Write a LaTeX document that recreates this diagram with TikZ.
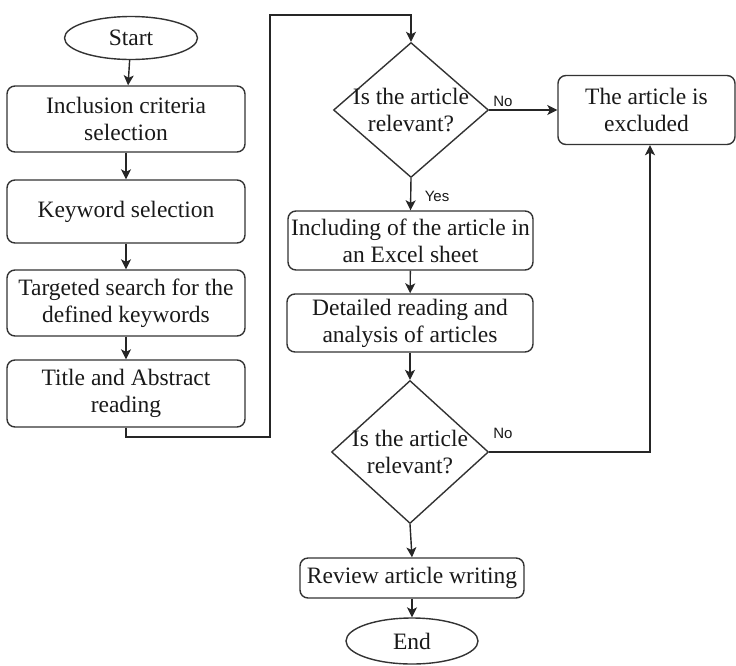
\documentclass[tikz,border=0pt]{standalone}
\usepackage{fontspec}
\setmainfont{Liberation Serif}
\newfontfamily\lblfont{Liberation Sans}
\usetikzlibrary{shapes.geometric,arrows.meta}
\begin{document}
\begin{tikzpicture}[x=1pt,y=-1pt,
  line width=1.4pt,
  box/.style={draw=black!80, rounded corners=8pt, align=center, inner sep=0pt, font=\fontsize{23.5}{27}\selectfont, text=black!90},
  term/.style={draw=black!80, ellipse, inner sep=0pt, font=\fontsize{23.5}{27}\selectfont, text=black!90},
  dec/.style={draw=black!80, diamond, inner sep=0pt},
  txt/.style={align=center, inner sep=0pt, font=\fontsize{23.5}{27}\selectfont, text=black!90},
  lbl/.style={font=\lblfont\fontsize{15}{16}\selectfont, text=black!90, inner sep=0pt},
  arr/.style={draw=black!85, -{Stealth[length=10pt,width=10pt,inset=2.5pt]}},
]
\useasboundingbox (0,0) rectangle (736,665);
% left column
\node[term, minimum width=133pt, minimum height=43pt] (start) at (131,38) {Start};
\node[box, minimum width=238pt, minimum height=66pt] (inc) at (126,119) {Inclusion criteria\\selection};
\node[box, minimum width=238pt, minimum height=63pt] (kw) at (126,211.5) {Keyword selection};
\node[box, minimum width=238pt, minimum height=66pt] (tgt) at (126,303) {Targeted search for the\\defined keywords};
\node[box, minimum width=238pt, minimum height=67pt] (title) at (126,393.5) {Title and Abstract\\reading};
% right column
\node[dec, minimum width=155pt, minimum height=135pt] (d1) at (411,110) {};
\node[txt] (d1t) at (411,110) {Is the article\\relevant?};
\node[box, minimum width=177pt, minimum height=69pt] (ex) at (646.5,110) {The article is\\excluded};
\node[box, minimum width=245pt, minimum height=59pt] (incl) at (410.5,240.5) {Including of the article in\\an Excel sheet};
\node[box, minimum width=246pt, minimum height=58pt] (det) at (410,323) {Detailed reading and\\analysis of articles};
\node[dec, minimum width=157pt, minimum height=143pt] (d2) at (410,452) {};
\node[txt] (d2t) at (410,452) {Is the article\\relevant?};
\node[box, minimum width=224pt, minimum height=40pt] (rev) at (412,578) {Review article writing};
\node[term, minimum width=132pt, minimum height=46pt] (end) at (412,641) {End};
% labels
\node[lbl] (no1) at (503,101) {No};
\node[lbl] (yes1) at (437,196) {Yes};
\node[lbl] (no2) at (503,433) {No};
% routing coordinates
\coordinate (c1) at (126,437);
\coordinate (c2) at (270,437);
\coordinate (c3) at (270,15);
\coordinate (c4) at (411,15);
% connectors
\draw[arr] (start) -- (inc);
\draw[arr] (inc) -- (kw);
\draw[arr] (kw) -- (tgt);
\draw[arr] (tgt) -- (title);
\draw[arr] (title.south) -- (c1) -- (c2) -- (c3) -- (c4) -- (d1.north);
\draw[arr] (d1.east) -- (ex.west);
\draw[arr] (d1.south) -- (incl.north);
\draw[arr] (incl) -- (det);
\draw[arr] (det.south) -- (d2.north);
\draw[arr] (d2.east) -- ([xshift=3.5pt]ex.south |- d2.east) -- ([xshift=3.5pt]ex.south);
\draw[arr] (d2.south) -- (rev.north);
\draw[arr] (rev) -- (end);
\end{tikzpicture}
\end{document}
